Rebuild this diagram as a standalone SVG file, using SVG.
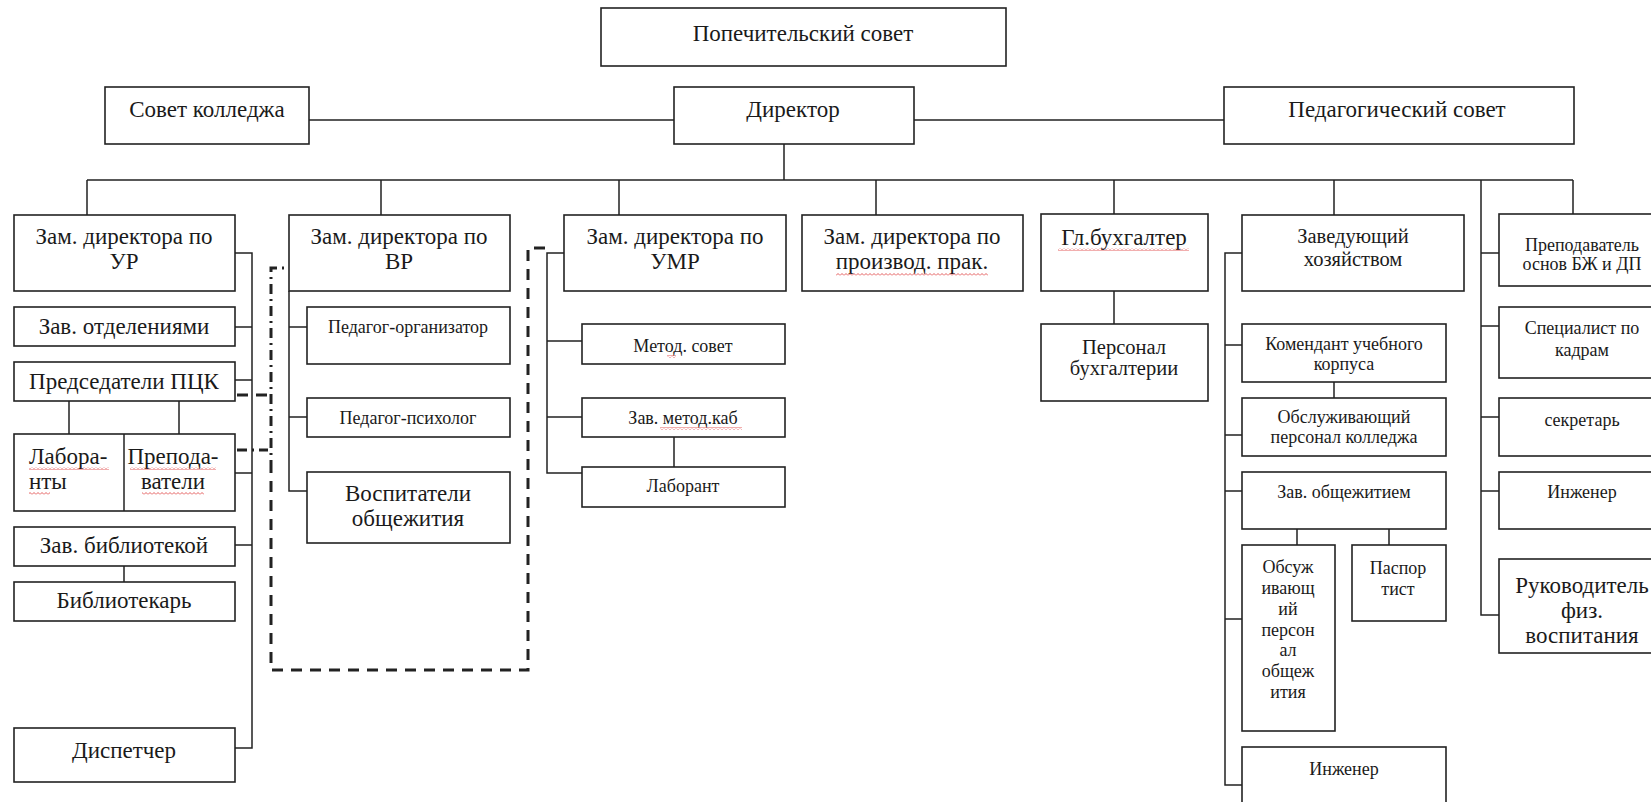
<svg xmlns="http://www.w3.org/2000/svg" width="1651" height="802" viewBox="0 0 1651 802">
<style>
.box{fill:#fff;stroke:#222;stroke-width:1.6}
.ln{fill:none;stroke:#222;stroke-width:1.5}
.dash{fill:none;stroke:#222;stroke-width:3;stroke-dasharray:11 8}
.dd{fill:none;stroke:#222;stroke-width:3;stroke-dasharray:10 5 2 5}
.txt text{fill:#1a1a1a;text-anchor:middle}
.L{font-size:23px}
.M{font-size:20.5px}
.S{font-size:18px}
.txt .lft{text-anchor:start}
.sq{fill:url(#sq)}
</style>
<defs>
<pattern id="sq" width="4" height="3" patternUnits="userSpaceOnUse">
<path d="M0 2.5 L2 0.5 L4 2.5" fill="none" stroke="#d33" stroke-width="0.8"/>
</pattern>
</defs>
<rect width="1651" height="802" fill="#fff"/>

<g id="connectors">
<path class="ln" d="M309 120 H674 M914 120 H1224 M784 144 V180 M87 180 H1573"/>
<path class="ln" d="M87 180 V215 M381 180 V215 M619 180 V215 M876 180 V215 M1114 180 V214 M1334 180 V215 M1573 180 V214"/>
<path class="ln" d="M235 253 H252 V748 H235 M235 327 H252 M235 380 H252 M235 473 H252 M235 545 H252"/>
<path class="ln" d="M69 401 V434 M179 401 V434 M124 566 V582"/>
<path class="ln" d="M289 291 V491 H307 M289 327 H307 M289 417 H307"/>
<path class="ln" d="M564 253 H547 V473 H582 M547 341 H582 M547 417 H582 M674 437 V467"/>
<path class="ln" d="M1114 291 V324"/>
<path class="ln" d="M1242 253 H1225 V785 H1242 M1225 345 H1242 M1225 435 H1242 M1225 491 H1242 M1225 619 H1242 M1334 382 V398 M1297 529 V545 M1389 529 V545"/>
<path class="ln" d="M1481 180 V615 H1499 M1481 253 H1499 M1481 326 H1499 M1481 417 H1499 M1481 491 H1499"/>
<path class="dash" d="M545 248 H528 V670 H271 V470"/>
<path class="dd" d="M271 470 V268 H286"/>
<path class="dash" d="M237 395 H271"/>
<path class="dd" d="M237 450 H268"/>
</g>

<g class="txt" font-family="'Liberation Serif', 'Times New Roman', serif">
<g id="popechitelsky"><rect class="box" x="601" y="8" width="405" height="58"/><text class="L" x="803" y="41">Попечительский совет</text></g>
<g id="sovet-kolledzha"><rect class="box" x="105" y="87" width="204" height="57"/><text class="L" x="207" y="117">Совет колледжа</text></g>
<g id="direktor"><rect class="box" x="674" y="87" width="240" height="57"/><text class="L" x="793" y="117">Директор</text></g>
<g id="pedsovet"><rect class="box" x="1224" y="87" width="350" height="57"/><text class="L" x="1397" y="117">Педагогический совет</text></g>

<g id="zam-ur"><rect class="box" x="14" y="215" width="221" height="76"/><text class="L" x="124" y="244">Зам. директора по</text><text class="L" x="124" y="269">УР</text></g>
<g id="zav-otd"><rect class="box" x="14" y="307" width="221" height="39"/><text class="L" x="124" y="334">Зав. отделениями</text></g>
<g id="pck"><rect class="box" x="14" y="362" width="221" height="39"/><text class="L" x="124" y="389">Председатели ПЦК</text></g>
<g id="laboranty-prepodavateli"><rect class="box" x="14" y="434" width="221" height="77"/><path class="ln" d="M124 434 V511"/>
<text class="L lft" x="29" y="464">Лабора-</text><text class="L lft" x="29" y="489">нты</text>
<text class="L" x="173" y="464">Препода-</text><text class="L" x="173" y="489">ватели</text>
<rect class="sq" x="29" y="467" width="80" height="3"/><rect class="sq" x="29" y="492" width="21" height="3"/>
<rect class="sq" x="130" y="467" width="86" height="3"/><rect class="sq" x="142" y="492" width="62" height="3"/></g>
<g id="zav-bib"><rect class="box" x="14" y="527" width="221" height="39"/><text class="L" x="124" y="553">Зав. библиотекой</text></g>
<g id="bibliotekar"><rect class="box" x="14" y="582" width="221" height="39"/><text class="L" x="124" y="608">Библиотекарь</text></g>
<g id="dispetcher"><rect class="box" x="14" y="728" width="221" height="54"/><text class="L" x="124" y="758">Диспетчер</text></g>

<g id="zam-vr"><rect class="box" x="289" y="215" width="221" height="76"/><text class="L" x="399" y="244">Зам. директора по</text><text class="L" x="399" y="269">ВР</text></g>
<g id="ped-org"><rect class="box" x="307" y="307" width="203" height="57"/><text class="S" x="408" y="333">Педагог-организатор</text></g>
<g id="ped-psih"><rect class="box" x="307" y="398" width="203" height="39"/><text class="S" x="408" y="424">Педагог-психолог</text></g>
<g id="vospitateli"><rect class="box" x="307" y="472" width="203" height="71"/><text class="L" x="408" y="501">Воспитатели</text><text class="L" x="408" y="526">общежития</text></g>

<g id="zam-umr"><rect class="box" x="564" y="215" width="222" height="76"/><text class="L" x="675" y="244">Зам. директора по</text><text class="L" x="675" y="269">УМР</text></g>
<g id="metod-sovet"><rect class="box" x="582" y="324" width="203" height="40"/><text class="S" x="683" y="352">Метод. совет</text><rect class="sq" x="667" y="355" width="9" height="3"/></g>
<g id="zav-metod"><rect class="box" x="582" y="398" width="203" height="39"/><text class="S" x="683" y="424">Зав. метод.каб</text><rect class="sq" x="660" y="427" width="82" height="3"/></g>
<g id="laborant"><rect class="box" x="582" y="467" width="203" height="40"/><text class="S" x="683" y="492">Лаборант</text></g>

<g id="zam-proizv"><rect class="box" x="802" y="215" width="221" height="76"/><text class="L" x="912" y="244">Зам. директора по</text><text class="L" x="912" y="269">производ. прак.</text><rect class="sq" x="836" y="273" width="152" height="3"/></g>

<g id="gl-buh"><rect class="box" x="1041" y="214" width="167" height="77"/><text class="L" x="1124" y="245">Гл.бухгалтер</text><rect class="sq" x="1058" y="248" width="131" height="3"/></g>
<g id="pers-buh"><rect class="box" x="1041" y="324" width="167" height="77"/><text class="M" x="1124" y="354">Персонал</text><text class="M" x="1124" y="375">бухгалтерии</text></g>

<g id="zavhoz"><rect class="box" x="1242" y="215" width="222" height="76"/><text class="M" x="1353" y="243">Заведующий</text><text class="M" x="1353" y="266">хозяйством</text></g>
<g id="komendant"><rect class="box" x="1242" y="324" width="204" height="58"/><text class="S" x="1344" y="350">Комендант учебного</text><text class="S" x="1344" y="370">корпуса</text></g>
<g id="obsl-kolledzha"><rect class="box" x="1242" y="398" width="204" height="58"/><text class="S" x="1344" y="423">Обслуживающий</text><text class="S" x="1344" y="443">персонал колледжа</text></g>
<g id="zav-obsh"><rect class="box" x="1242" y="472" width="204" height="57"/><text class="S" x="1344" y="498">Зав. общежитием</text></g>
<g id="obsl-obsh"><rect class="box" x="1242" y="545" width="93" height="186"/>
<text class="S" x="1288" y="573">Обсуж</text><text class="S" x="1288" y="594">ивающ</text><text class="S" x="1288" y="615">ий</text><text class="S" x="1288" y="636">персон</text><text class="S" x="1288" y="656">ал</text><text class="S" x="1288" y="677">общеж</text><text class="S" x="1288" y="698">ития</text></g>
<g id="pasportist"><rect class="box" x="1352" y="545" width="94" height="76"/><text class="S" x="1398" y="574">Паспор</text><text class="S" x="1398" y="595">тист</text></g>
<g id="inzhener-1"><rect class="box" x="1242" y="747" width="204" height="70"/><text class="S" x="1344" y="775">Инженер</text></g>

<g id="prep-bzh"><rect class="box" x="1499" y="214" width="167" height="72"/><text class="S" x="1582" y="251">Преподаватель</text><text class="S" x="1582" y="270">основ БЖ и ДП</text></g>
<g id="spec-kadry"><rect class="box" x="1499" y="307" width="167" height="71"/><text class="S" x="1582" y="334">Специалист по</text><text class="S" x="1582" y="356">кадрам</text></g>
<g id="sekretar"><rect class="box" x="1499" y="398" width="167" height="58"/><text class="S" x="1582" y="426">секретарь</text></g>
<g id="inzhener-2"><rect class="box" x="1499" y="472" width="167" height="57"/><text class="S" x="1582" y="498">Инженер</text></g>
<g id="rukovoditel"><rect class="box" x="1499" y="559" width="167" height="94"/><text class="L" x="1582" y="593">Руководитель</text><text class="L" x="1582" y="618">физ.</text><text class="L" x="1582" y="643">воспитания</text></g>
</g>
</svg>
